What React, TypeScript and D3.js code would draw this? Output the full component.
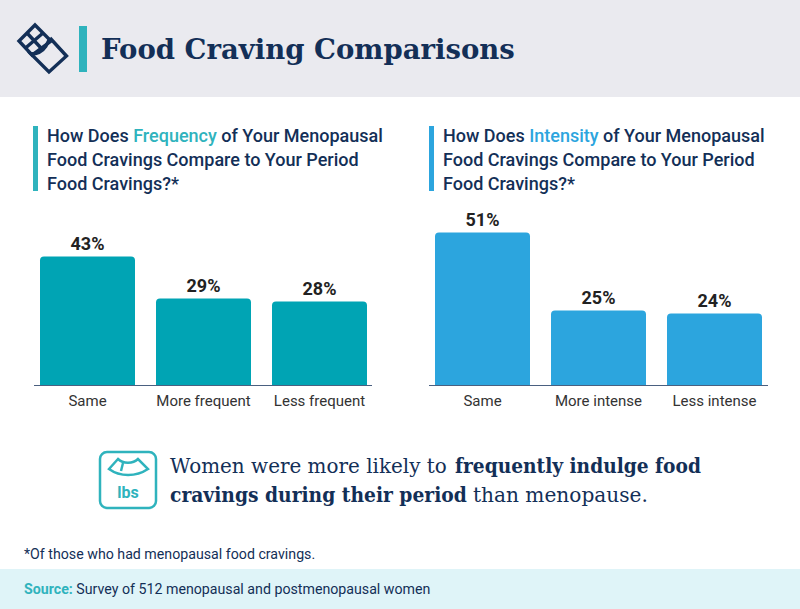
import React from "react";
import * as d3 from "d3";

const freqCategories = ["Same", "More frequent", "Less frequent"];
const freqValues = [43, 29, 28];
const intenCategories = ["Same", "More intense", "Less intense"];
const intenValues = [51, 25, 24];

const NAVY = "#132f57";
const TEAL = "#2fb3bd";
const BLUE = "#2ca5de";
const BODY = "Roboto, sans-serif";
const SERIF = "'DejaVu Serif', serif";

function topRound(x: number, y: number, w: number, h: number, r: number) {
  const p = d3.path();
  p.moveTo(x, y + h);
  p.lineTo(x, y + r);
  p.quadraticCurveTo(x, y, x + r, y);
  p.lineTo(x + w - r, y);
  p.quadraticCurveTo(x + w, y, x + w, y + r);
  p.lineTo(x + w, y + h);
  p.closePath();
  return p.toString();
}

function Chart({ left, cats, vals, color, axisLeft, axisRight }: any) {
  const x = d3.scaleBand<string>().domain(cats).range([left, left + 327]).paddingInner(21 / 116).paddingOuter(0);
  const y = d3.scaleLinear().domain([0, 51]).range([385.5, 232.5]);
  return (
    <g>
      {cats.map((c: string, i: number) => {
        const bx = x(c)!;
        const w = x.bandwidth();
        return (
          <g key={c}>
            <path d={topRound(bx, y(vals[i]), w, y(0) - y(vals[i]), 4)} fill={color} />
            <text x={bx + w / 2} y={y(vals[i]) - 7} textAnchor="middle" fontFamily={BODY} fontWeight={700} fontSize={18} fill="#222">
              {vals[i]}%
            </text>
            <text x={bx + w / 2} y={406} textAnchor="middle" fontFamily={BODY} fontSize={15} fill="#333">
              {c}
            </text>
          </g>
        );
      })}
      <line x1={axisLeft} x2={axisRight} y1={385.5} y2={385.5} stroke="#4a6080" strokeWidth={1} />
    </g>
  );
}

function Question({ x, word, color }: any) {
  const t = { fontFamily: BODY, fontSize: 18, fontWeight: 500, fill: NAVY } as const;
  return (
    <g>
      <rect x={x} y={126} width={5} height={65} fill={color} />
      <text x={x + 14} y={142} {...t}>
        How Does <tspan fill={color}>{word}</tspan> of Your Menopausal
      </text>
      <text x={x + 14} y={166} {...t}>Food Cravings Compare to Your Period</text>
      <text x={x + 14} y={190} {...t}>Food Cravings?*</text>
    </g>
  );
}

const measureCtx = document.createElement("canvas").getContext("2d")!;

// Serif text squeezed horizontally to the width it has in the reference.
function FitText({ x, y, width, size, bold, children }: any) {
  measureCtx.font = `${bold ? "700 " : ""}${size}px 'DejaVu Serif'`;
  const natural = measureCtx.measureText(children).width;
  return (
    <text
      transform={`translate(${x},${y}) scale(${width / natural},1)`}
      fontFamily={SERIF}
      fontSize={size}
      fontWeight={bold ? 700 : 400}
      fill={NAVY}
    >
      {children}
    </text>
  );
}

export default function App() {
  return (
    <svg width={800} height={609} viewBox="0 0 800 609" style={{ position: "absolute", left: 0, top: 0, background: "#fff" }}>
      <rect width={800} height={97} fill="#eaeaef" />
      <g fill="none" stroke={NAVY} strokeWidth={3.4} strokeLinejoin="miter">
        <path d="M35 25 L51 41 L32 55 L19 41 Z" />
        <path d="M27 33 L41 48 M43 33 L25.5 48" />
        <path d="M50 38 L66.5 56 L49 72 L31 54 C37 54 42 52 46 46 L50 38" />
      </g>
      <rect x={79} y={26} width={8} height={46} fill={TEAL} />
      <FitText x={101} y={59} width={414} size={27} bold>Food Craving Comparisons</FitText>

      <Question x={33} word="Frequency" color={TEAL} />
      <Question x={429} word="Intensity" color={BLUE} />

      <Chart left={40} cats={freqCategories} vals={freqValues} color="#00a4b4" axisLeft={34} axisRight={372} />
      <Chart left={435} cats={intenCategories} vals={intenValues} color={BLUE} axisLeft={429} axisRight={768} />

      <rect x={100} y={452} width={56} height={56} rx={7} fill="none" stroke={TEAL} strokeWidth={2.5} />
      <g fill="none" stroke={TEAL} strokeWidth={2.5}>
        <path d="M109 469 L118 459 C123 464 133 464 138 459 L148 469 C136 477 120 477 109 469 Z" />
        <path d="M123 463 L121 471" />
      </g>
      <text x={128} y={498} textAnchor="middle" fontFamily={BODY} fontWeight={700} fontSize={16} fill={TEAL}>lbs</text>

      <FitText x={170} y={473} width={277} size={20.5}>Women were more likely to</FitText>
      <FitText x={455} y={473} width={246} size={20.5} bold>frequently indulge food</FitText>
      <FitText x={170} y={502} width={297} size={20.5} bold>cravings during their period</FitText>
      <FitText x={473} y={502} width={175} size={20.5}>than menopause.</FitText>

      <text x={24} y={559} fontFamily={BODY} fontSize={14.2} fill={NAVY}>*Of those who had menopausal food cravings.</text>
      <rect x={0} y={569} width={800} height={40} fill="#dff4f8" />
      <text x={24} y={594} fontFamily={BODY} fontSize={14.2} fill={NAVY}>
        <tspan fill={TEAL} fontWeight={700}>Source:</tspan> Survey of 512 menopausal and postmenopausal women
      </text>
    </svg>
  );
}
